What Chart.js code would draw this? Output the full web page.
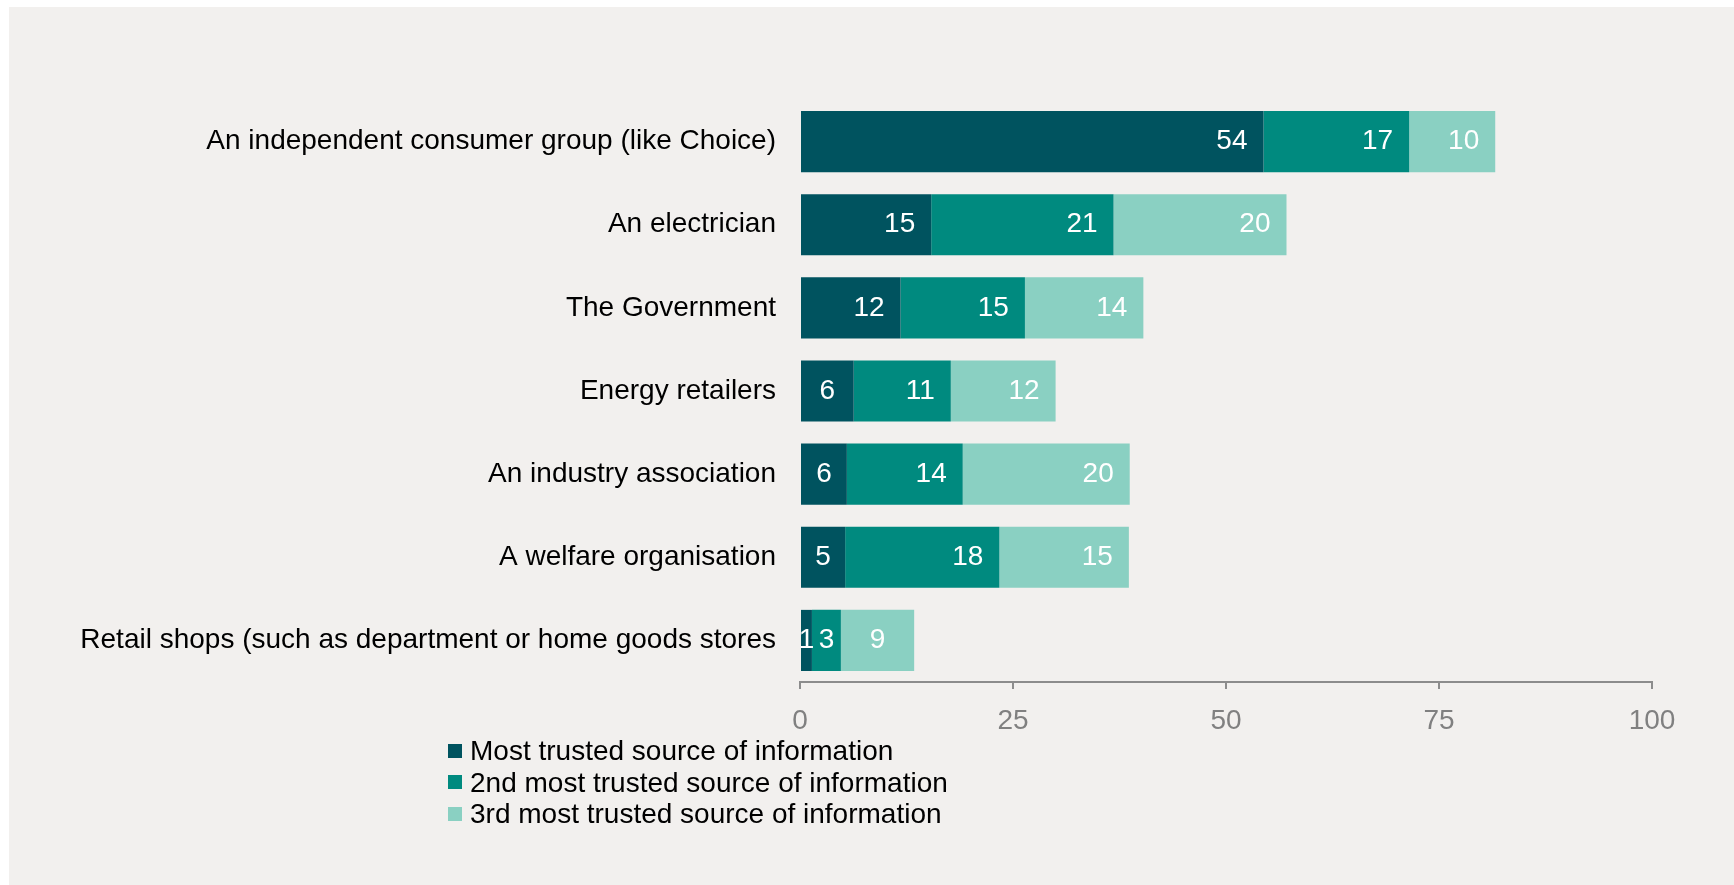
<!DOCTYPE html>
<html lang="en">
<head>
<meta charset="UTF-8">
<title>Trusted sources of information</title>
<style>
    body { margin: 0; background: #ffffff; font-family: "Liberation Sans", Arial, sans-serif; }
    .painel { position: absolute; left: 9px; top: 7px; width: 1725px; height: 878px; background: #f2f0ee; }
    #grafico { position: absolute; left: 0; top: 0; }
    .legenda { position: absolute; left: 448px; top: 735px; font-size: 28px; line-height: 31.5px; color: #000; }
    .legenda div { display: flex; align-items: center; white-space: nowrap; }
    .legenda span.cor { display: inline-block; width: 14px; height: 14px; margin-right: 8px; }
</style>
</head>
<body>
<div class="painel"></div>
<canvas id="grafico" width="1734" height="885"></canvas>
<div class="legenda" id="legenda"></div>

<script src="https://cdn.jsdelivr.net/npm/chart.js"></script>
<script>
    // categorias (de cima para baixo)
    const categorias = [
        'An independent consumer group (like Choice)',
        'An electrician',
        'The Government',
        'Energy retailers',
        'An industry association',
        'A welfare organisation',
        'Retail shops (such as department or home goods stores'
    ];

    // percentuais
    const maisConfiavel = [54.4, 15.4, 11.8, 6.3, 5.5, 5.3, 1.4];
    const segundoConfiavel = [17.1, 21.4, 14.6, 11.4, 13.6, 18.1, 3.4];
    const terceiroConfiavel = [10.1, 20.3, 13.9, 12.3, 19.6, 15.2, 8.6];

    const nomesSeries = [
        'Most trusted source of information',
        '2nd most trusted source of information',
        '3rd most trusted source of information'
    ];
    const cores = ['#00535f', '#008a7f', '#8ad0c2'];
    const ticksX = [0, 25, 50, 75, 100];

    Chart.defaults.font.family = '"Liberation Sans", Arial, sans-serif';

    // rotulos brancos dentro das barras
    const rotulosBarras = {
        id: 'rotulosBarras',
        afterDatasetsDraw(chart) {
            const ctx = chart.ctx;
            ctx.save();
            ctx.font = '28px "Liberation Sans", Arial, sans-serif';
            ctx.fillStyle = '#ffffff';
            ctx.textBaseline = 'middle';
            chart.data.datasets.forEach((ds, i) => {
                const meta = chart.getDatasetMeta(i);
                meta.data.forEach((barra, j) => {
                    const texto = String(Math.round(ds.data[j]));
                    const largura = barra.x - barra.base;
                    if (largura >= 75) {
                        ctx.textAlign = 'right';
                        ctx.fillText(texto, barra.x - 16, barra.y);
                    } else {
                        ctx.textAlign = 'center';
                        ctx.fillText(texto, (barra.x + barra.base) / 2, barra.y);
                    }
                });
            });
            ctx.restore();
        }
    };

    const series = [maisConfiavel, segundoConfiavel, terceiroConfiavel];

    const grafico = new Chart(document.getElementById('grafico'), {
        type: 'bar',
        data: {
            labels: categorias,
            datasets: series.map((valores, i) => ({
                label: nomesSeries[i],
                data: valores,
                backgroundColor: cores[i],
                borderWidth: 0,
                categoryPercentage: 1,
                barPercentage: 0.735
            }))
        },
        options: {
            indexAxis: 'y',
            responsive: false,
            animation: false,
            devicePixelRatio: 1,
            layout: { padding: { top: 100, right: 82, bottom: 0, left: 0 } },
            plugins: {
                legend: { display: false },
                tooltip: { enabled: false }
            },
            scales: {
                x: {
                    stacked: true,
                    min: 0,
                    max: 100,
                    afterBuildTicks(scale) {
                        scale.ticks = ticksX.map(v => ({ value: v }));
                    },
                    afterFit(scale) { scale.height = 203; },
                    grid: {
                        display: true,
                        drawOnChartArea: false,
                        drawTicks: true,
                        tickLength: 7,
                        color: '#8c8c8c',
                        lineWidth: 2
                    },
                    border: { display: true, color: '#8c8c8c', width: 2 },
                    ticks: {
                        color: '#808080',
                        font: { size: 28 },
                        padding: 15
                    }
                },
                y: {
                    stacked: true,
                    afterFit(scale) { scale.width = 800; },
                    grid: { display: false, drawTicks: false },
                    border: { display: false },
                    ticks: {
                        color: '#000000',
                        font: { size: 28 },
                        padding: 24
                    }
                }
            }
        },
        plugins: [rotulosBarras]
    });

    // legenda em coluna, montada a partir das series
    const legenda = document.getElementById('legenda');
    nomesSeries.forEach((nome, i) => {
        const linha = document.createElement('div');
        const cor = document.createElement('span');
        cor.className = 'cor';
        cor.style.background = cores[i];
        linha.appendChild(cor);
        linha.appendChild(document.createTextNode(nome));
        legenda.appendChild(linha);
    });
</script>
</body>
</html>
